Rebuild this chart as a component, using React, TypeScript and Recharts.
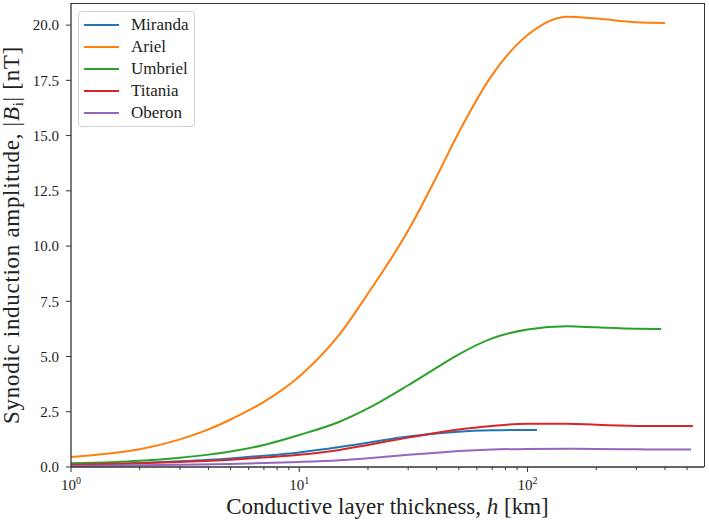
// Synodic induction amplitude vs conductive layer thickness
import React from 'react';
import { LineChart, Line, XAxis, YAxis } from 'recharts';

const FONT = '"Liberation Serif", "DejaVu Serif", serif';
const AXIS_COLOR = '#333';
const TEXT_COLOR = '#222';

// thickness h [km] and amplitude |B_i| [nT]
const hMiranda = [1, 2, 3, 5, 7, 10, 15, 20, 30, 40, 50, 70, 100, 110];
const bMiranda = [0.1, 0.18, 0.26, 0.39, 0.51, 0.66, 0.9, 1.1, 1.38, 1.52, 1.6, 1.66, 1.68, 1.68];

const hAriel = [1, 1.5, 2, 3, 4, 5, 7, 10, 15, 20, 30, 40, 50, 70, 100, 150, 200, 300, 400];
const bAriel = [0.45, 0.62, 0.8, 1.25, 1.7, 2.15, 2.95, 4.1, 6.0, 7.85, 10.7, 13.15, 15.15, 17.75, 19.55, 20.38, 20.3, 20.13, 20.1];

const hUmbriel = [1, 1.5, 2, 3, 4, 5, 7, 10, 15, 20, 30, 40, 50, 70, 100, 150, 200, 300, 385];
const bUmbriel = [0.17, 0.22, 0.28, 0.42, 0.56, 0.7, 1.0, 1.45, 2.05, 2.65, 3.7, 4.5, 5.1, 5.82, 6.22, 6.37, 6.32, 6.26, 6.25];

const hTitania = [1, 2, 3, 5, 7, 10, 15, 20, 30, 40, 50, 70, 100, 150, 200, 300, 400, 530];
const bTitania = [0.1, 0.17, 0.23, 0.33, 0.43, 0.55, 0.77, 1.0, 1.33, 1.55, 1.7, 1.86, 1.96, 1.96, 1.91, 1.86, 1.85, 1.85];

const hOberon = [1, 2, 3, 5, 7, 10, 15, 20, 30, 40, 50, 70, 100, 150, 200, 300, 400, 520];
const bOberon = [0.05, 0.08, 0.1, 0.14, 0.18, 0.23, 0.31, 0.4, 0.55, 0.65, 0.72, 0.79, 0.82, 0.83, 0.82, 0.8, 0.79, 0.79];

const X_TICKS = [1, 2, 3, 4, 5, 6, 7, 8, 9, 10, 20, 30, 40, 50, 60, 70, 80, 90, 100, 200, 300, 400, 500];
const Y_TICKS = [0, 2.5, 5, 7.5, 10, 12.5, 15, 17.5, 20];
const X_DOMAIN = [1, 593];
const Y_DOMAIN = [0, 21];

const toRows = (h: number[], b: number[]) => h.map((v, i) => ({ h: v, b: b[i] }));

const SERIES = [
  { name: 'Miranda', color: '#1f77b4', data: toRows(hMiranda, bMiranda) },
  { name: 'Ariel', color: '#ff7f0e', data: toRows(hAriel, bAriel) },
  { name: 'Umbriel', color: '#2ca02c', data: toRows(hUmbriel, bUmbriel) },
  { name: 'Titania', color: '#d62728', data: toRows(hTitania, bTitania) },
  { name: 'Oberon', color: '#9467bd', data: toRows(hOberon, bOberon) },
];

// plot box, used for the top/right spines
const PLOT = { left: 71, top: 3, width: 633, height: 464 };

// log axis ticks: majors labelled 10^n, minors short and unlabelled
const XTick = (props: any) => {
  const { x, y, payload } = props;
  const v = payload.value;
  const exp = Math.round(Math.log10(v));
  const major = Math.abs(Math.pow(10, exp) - v) < 1e-9;
  return (
    <g>
      <line x1={x} x2={x} y1={y} y2={y + (major ? 5 : 3)} stroke={AXIS_COLOR} strokeWidth={1} />
      {major && (
        <text x={x} y={y + 23} textAnchor="middle" fontFamily={FONT} fontSize={15} fill={TEXT_COLOR}>
          10
          <tspan dy={-6} fontSize={10}>{exp}</tspan>
        </text>
      )}
    </g>
  );
};

const XLabel = (props: any) => {
  const { viewBox } = props;
  const cx = viewBox.x + viewBox.width / 2;
  return (
    <text x={cx} y={viewBox.y + 47} textAnchor="middle" fontFamily={FONT} fontSize={23} fill={TEXT_COLOR}>
      Conductive layer thickness, <tspan fontStyle="italic">h</tspan> [km]
    </text>
  );
};

const YLabel = (props: any) => {
  const { viewBox } = props;
  const cx = 19;
  const cy = viewBox.y + viewBox.height / 2;
  return (
    <text
      x={cx}
      y={cy}
      transform={`rotate(-90, ${cx}, ${cy})`}
      textAnchor="middle"
      fontFamily={FONT}
      fontSize={23}
      letterSpacing={0.7}
      fill={TEXT_COLOR}
    >
      Synodic induction amplitude, |<tspan fontStyle="italic">B</tspan>
      <tspan fontSize={15} dy={4}>i</tspan>
      <tspan dy={-4}>| [nT]</tspan>
    </text>
  );
};

const LegendBox = () => (
  <div
    style={{
      position: 'absolute',
      left: 78,
      top: 11,
      width: 117,
      height: 116,
      boxSizing: 'border-box',
      border: '1px solid #d0d0d0',
      borderRadius: 4,
      background: 'rgba(255,255,255,0.85)',
      fontFamily: FONT,
      fontSize: 17,
      color: TEXT_COLOR,
      paddingTop: 2,
    }}
  >
    {SERIES.map((s) => (
      <div key={s.name} style={{ display: 'flex', alignItems: 'center', height: 22 }}>
        <span style={{ display: 'inline-block', width: 35, height: 2, background: s.color, marginLeft: 5 }} />
        <span style={{ marginLeft: 12 }}>{s.name}</span>
      </div>
    ))}
  </div>
);

export default function App() {
  return (
    <div style={{ position: 'absolute', left: 0, top: 0, width: 709, height: 524, background: '#fff' }}>
      <LineChart width={709} height={524} margin={{ top: 3, right: 5, left: 0, bottom: 0 }}>
        <XAxis
          dataKey="h"
          type="number"
          scale="log"
          domain={X_DOMAIN}
          allowDataOverflow
          ticks={X_TICKS}
          interval={0}
          tickSize={0}
          tickMargin={0}
          tickLine={false}
          tick={<XTick />}
          height={57}
          axisLine={{ stroke: AXIS_COLOR, strokeWidth: 1.3 }}
          label={<XLabel />}
        />
        <YAxis
          type="number"
          domain={Y_DOMAIN}
          allowDataOverflow
          ticks={Y_TICKS}
          interval={0}
          width={71}
          tickSize={5}
          tickMargin={7}
          tickFormatter={(v: number) => v.toFixed(1)}
          tick={{ fontFamily: FONT, fontSize: 15, fill: TEXT_COLOR }}
          tickLine={{ stroke: AXIS_COLOR }}
          axisLine={{ stroke: AXIS_COLOR, strokeWidth: 1.3 }}
          label={<YLabel />}
        />
        {SERIES.map((s) => (
          <Line
            key={s.name}
            data={s.data}
            dataKey="b"
            name={s.name}
            type="monotone"
            stroke={s.color}
            strokeWidth={2}
            dot={false}
            activeDot={false}
            isAnimationActive={false}
          />
        ))}
      </LineChart>
      <div
        style={{
          position: 'absolute',
          left: PLOT.left,
          top: PLOT.top - 0.5,
          width: PLOT.width + 0.5,
          height: PLOT.height,
          boxSizing: 'border-box',
          borderTop: `1.3px solid ${AXIS_COLOR}`,
          borderRight: `1.3px solid ${AXIS_COLOR}`,
          pointerEvents: 'none',
        }}
      />
      <LegendBox />
    </div>
  );
}
